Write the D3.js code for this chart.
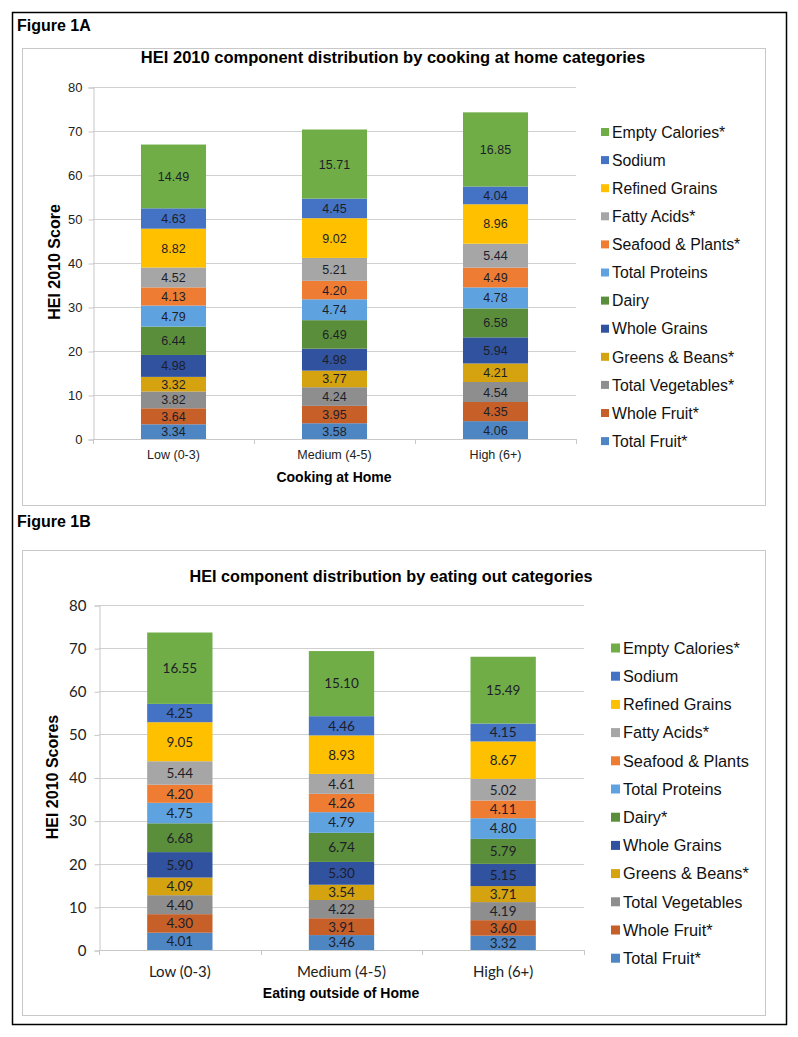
<!DOCTYPE html>
<html>
<head>
<meta charset="utf-8">
<script src="https://cdn.jsdelivr.net/npm/d3@7"></script>
<style>
  body { margin: 0; background: #fff; }
  svg { display: block; }
</style>
</head>
<body>
<svg width="798" height="1037"></svg>
<script>
// categories on the x axis
const categoriesA = ["Low (0-3)", "Medium (4-5)", "High (6+)"];
const categoriesB = ["Low (0-3)", "Medium (4-5)", "High (6+)"];

// stack order, bottom to top
const seriesA = ["Total Fruit*", "Whole Fruit*", "Total Vegetables*", "Greens & Beans*", "Whole Grains", "Dairy",
  "Total Proteins", "Seafood & Plants*", "Fatty Acids*", "Refined Grains", "Sodium", "Empty Calories*"];
const seriesB = ["Total Fruit*", "Whole Fruit*", "Total Vegetables", "Greens & Beans*", "Whole Grains", "Dairy*",
  "Total Proteins", "Seafood & Plants", "Fatty Acids*", "Refined Grains", "Sodium", "Empty Calories*"];

// one row per series, one value per category
const valuesA = [
  [3.34, 3.58, 4.06],
  [3.64, 3.95, 4.35],
  [3.82, 4.24, 4.54],
  [3.32, 3.77, 4.21],
  [4.98, 4.98, 5.94],
  [6.44, 6.49, 6.58],
  [4.79, 4.74, 4.78],
  [4.13, 4.20, 4.49],
  [4.52, 5.21, 5.44],
  [8.82, 9.02, 8.96],
  [4.63, 4.45, 4.04],
  [14.49, 15.71, 16.85]
];
const valuesB = [
  [4.01, 3.46, 3.32],
  [4.30, 3.91, 3.60],
  [4.40, 4.22, 4.19],
  [4.09, 3.54, 3.71],
  [5.90, 5.30, 5.15],
  [6.68, 6.74, 5.79],
  [4.75, 4.79, 4.80],
  [4.20, 4.26, 4.11],
  [5.44, 4.61, 5.02],
  [9.05, 8.93, 8.67],
  [4.25, 4.46, 4.15],
  [16.55, 15.10, 15.49]
];

const yTicks = [0, 10, 20, 30, 40, 50, 60, 70, 80];

const colors = ["#4e86c3", "#c65f28", "#8e8e8e", "#d4a30f", "#30529f", "#5b8e3b",
  "#5ea3df", "#ee7d33", "#a6a6a6", "#ffc000", "#4472c4", "#70ad47"];

const svg = d3.select("svg");

// outer frame
svg.append("rect")
  .attr("x", 12.5).attr("y", 12.5)
  .attr("width", 774).attr("height", 1012)
  .attr("fill", "none").attr("stroke", "#000").attr("stroke-width", 1.5);

function drawPanel(p) {
  const g = svg.append("g");

  // figure label above the chart box
  g.append("text")
    .attr("x", 17).attr("y", p.figY)
    .attr("font-family", "Liberation Sans, Arial, sans-serif")
    .attr("font-weight", "bold").attr("font-size", 16)
    .text(p.figLabel);

  // chart box
  g.append("rect")
    .attr("x", 22.5).attr("y", p.boxTop + 0.5)
    .attr("width", 743).attr("height", p.boxBottom - p.boxTop)
    .attr("fill", "#fff").attr("stroke", "#c8c8c8");

  g.append("text")
    .attr("x", p.titleX).attr("y", p.titleY)
    .attr("text-anchor", "middle")
    .attr("font-family", "Liberation Sans, Arial, sans-serif")
    .attr("font-weight", "bold").attr("font-size", p.titleSize)
    .text(p.title);

  const x = d3.scaleBand()
    .domain(p.categories)
    .range([p.left, p.right])
    .paddingInner(0.596)
    .paddingOuter(0.298);

  const y = d3.scaleLinear().domain([0, 80]).range([p.y0, p.y80]);

  // gridlines
  g.append("g").selectAll("line")
    .data(yTicks.filter(t => t > 0))
    .join("line")
    .attr("x1", p.left).attr("x2", p.right)
    .attr("y1", d => Math.round(y(d)) + 0.5).attr("y2", d => Math.round(y(d)) + 0.5)
    .attr("stroke", "#d0d0d0");

  // y axis
  const yAxis = g.append("g")
    .attr("transform", `translate(${p.left + 0.5},0.5)`)
    .call(d3.axisLeft(y).tickValues(yTicks).tickSize(5).tickPadding(p.yTickPad));
  yAxis.select(".domain").attr("stroke", "#c8c8c8");
  yAxis.selectAll(".tick line").attr("stroke", "#c8c8c8");
  yAxis.selectAll("text")
    .attr("font-family", p.tickFont).attr("font-size", p.tickSize).attr("fill", "#222");

  // x axis line with ticks between categories
  const step = x.step();
  const xb = g.append("g");
  xb.append("line")
    .attr("x1", p.left).attr("x2", p.right)
    .attr("y1", Math.round(y(0)) + 0.5).attr("y2", Math.round(y(0)) + 0.5)
    .attr("stroke", "#c8c8c8");
  xb.selectAll(".sep")
    .data(d3.range(p.categories.length + 1))
    .join("line")
    .attr("x1", i => Math.round(p.left + i * step) + 0.5)
    .attr("x2", i => Math.round(p.left + i * step) + 0.5)
    .attr("y1", Math.round(y(0))).attr("y2", Math.round(y(0)) + 5)
    .attr("stroke", "#c8c8c8");
  xb.selectAll(".cat")
    .data(p.categories)
    .join("text")
    .attr("x", d => x(d) + x.bandwidth() / 2)
    .attr("y", p.catY)
    .attr("text-anchor", "middle")
    .attr("font-family", p.tickFont).attr("font-size", p.catSize).attr("fill", "#222")
    .text(d => d);

  // axis titles
  g.append("text")
    .attr("x", p.xTitleX).attr("y", p.xTitleY)
    .attr("text-anchor", "middle")
    .attr("font-family", p.xTitleFont)
    .attr("font-weight", "bold").attr("font-size", p.xTitleSize)
    .text(p.xTitle);
  g.append("text")
    .attr("transform", `translate(${p.yTitleX},${p.yTitleY}) rotate(-90)`)
    .attr("text-anchor", "middle")
    .attr("font-family", "Liberation Sans, Arial, sans-serif")
    .attr("font-weight", "bold").attr("font-size", p.yTitleSize)
    .text(p.yTitle);

  // stacked bars
  const rows = p.categories.map((c, i) => {
    const r = { cat: c };
    p.series.forEach((s, j) => { r[s] = p.values[j][i]; });
    return r;
  });
  const stacked = d3.stack().keys(p.series)(rows);

  const layers = g.append("g").selectAll("g")
    .data(stacked)
    .join("g")
    .attr("fill", (d, i) => colors[i]);

  layers.selectAll("rect")
    .data(d => d)
    .join("rect")
    .attr("x", d => x(d.data.cat))
    .attr("width", x.bandwidth())
    .attr("y", d => y(d[1]))
    .attr("height", d => y(d[0]) - y(d[1]));

  layers.selectAll("text")
    .data(d => d.map(v => ({ v, key: d.key })))
    .join("text")
    .attr("x", d => x(d.v.data.cat) + x.bandwidth() / 2)
    .attr("y", d => (y(d.v[0]) + y(d.v[1])) / 2)
    .attr("dy", "0.36em")
    .attr("text-anchor", "middle")
    .attr("font-family", p.labelFont).attr("font-size", p.labelSize)
    .attr("fill", "#1e1e2a")
    .text(d => d.v.data[d.key].toFixed(2));

  // legend, top entry is the top of the stack
  const legendItems = p.series.map((s, i) => ({ s, i })).reverse();
  const leg = g.append("g").selectAll("g")
    .data(legendItems)
    .join("g")
    .attr("transform", (d, k) => `translate(${p.legX},${p.legY + k * p.legStep})`);
  leg.append("rect")
    .attr("x", 0).attr("y", -p.legBox / 2)
    .attr("width", p.legBox).attr("height", p.legBox)
    .attr("fill", d => colors[d.i]);
  leg.append("text")
    .attr("x", p.legBox + 3).attr("dy", "0.36em")
    .attr("font-family", "Liberation Sans, Arial, sans-serif")
    .attr("font-size", p.legSize).attr("fill", "#111")
    .text(d => d.s);
}

drawPanel({
  figLabel: "Figure 1A", figY: 31,
  boxTop: 48, boxBottom: 505,
  title: "HEI 2010 component distribution by cooking at home categories",
  titleX: 393, titleY: 63, titleSize: 16.5,
  categories: categoriesA, series: seriesA, values: valuesA,
  left: 93, right: 576, y0: 439, y80: 87,
  tickFont: "Liberation Sans, Arial, sans-serif", tickSize: 13, yTickPad: 6,
  catY: 459, catSize: 12.5,
  xTitle: "Cooking at Home", xTitleX: 334, xTitleY: 482, xTitleSize: 14,
  xTitleFont: "Liberation Sans, Arial, sans-serif",
  yTitle: "HEI 2010 Score", yTitleX: 60, yTitleY: 262, yTitleSize: 16,
  labelFont: "Liberation Sans, Arial, sans-serif", labelSize: 12.5,
  legX: 601, legY: 132, legStep: 28.1, legBox: 8, legSize: 15.8
});

drawPanel({
  figLabel: "Figure 1B", figY: 527,
  boxTop: 550, boxBottom: 1015,
  title: "HEI component distribution by eating out categories",
  titleX: 391, titleY: 582, titleSize: 16.2,
  categories: categoriesB, series: seriesB, values: valuesB,
  left: 99, right: 584, y0: 950, y80: 605,
  tickFont: "Lato, Carlito, Calibri, sans-serif", tickSize: 15, yTickPad: 8,
  catY: 977, catSize: 15,
  xTitle: "Eating outside of Home", xTitleX: 341, xTitleY: 998, xTitleSize: 14,
  xTitleFont: "Liberation Sans, Arial, sans-serif",
  yTitle: "HEI 2010 Scores", yTitleX: 58, yTitleY: 777, yTitleSize: 16,
  labelFont: "Lato, Carlito, Calibri, sans-serif", labelSize: 13.5,
  legX: 611, legY: 648, legStep: 28.2, legBox: 9, legSize: 16.3
});
</script>
</body>
</html>
